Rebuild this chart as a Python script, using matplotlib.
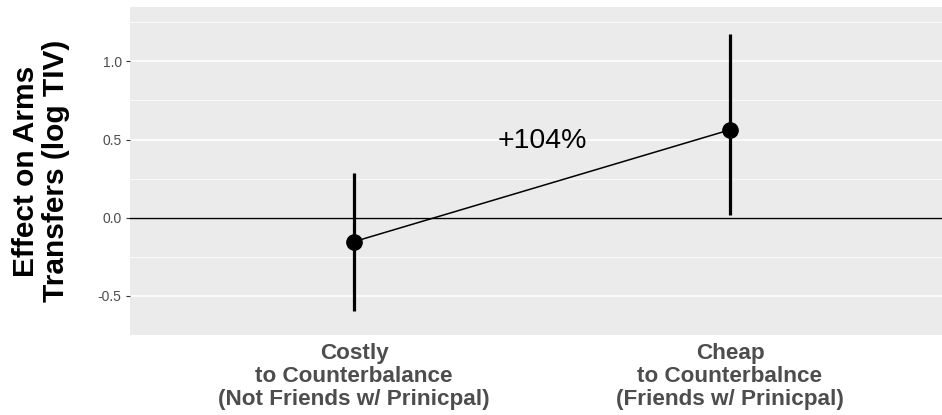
import matplotlib
matplotlib.use("Agg")
import matplotlib.pyplot as plt
import numpy as np

plt.rcParams['font.family'] = ['Liberation Sans', 'DejaVu Sans']

# estimates with confidence bounds for each group
groups = ['Costly\nto Counterbalance\n(Not Friends w/ Prinicpal)',
          'Cheap\nto Counterbalnce\n(Friends w/ Prinicpal)']
estimate = [-0.153, 0.562]
lower = [-0.594, 0.019]
upper = [0.287, 1.174]
change_label = '+104%'

fig = plt.figure(figsize=(9.42, 4.15), dpi=100)
ax = fig.add_axes([0.138, 0.1928, 0.862, 0.7902])
ax.set_facecolor('#EBEBEB')

xpos = np.arange(1, len(groups) + 1)

ax.axhline(0, color='black', lw=1.0, zorder=2)
ax.plot(xpos, estimate, color='black', lw=1.1, zorder=3)
ax.vlines(xpos, lower, upper, color='black', lw=2.3, zorder=3)
ax.plot(xpos, estimate, 'o', color='black', ms=11, zorder=4)
ax.text(xpos.mean(), 0.49, change_label, ha='center', va='center', fontsize=20.5)

ax.set_xlim(0.404, 2.564)
ax.set_ylim(-0.747, 1.347)
ax.set_yticks([-0.5, 0.0, 0.5, 1.0])
ax.set_yticklabels(['-0.5', '0.0', '0.5', '1.0'])
ax.set_yticks([-0.75, -0.25, 0.25, 0.75, 1.25], minor=True)
ax.set_xticks(xpos)
ax.set_xticklabels(groups, fontsize=16.2, fontweight='bold', color='#4D4D4D',
                   linespacing=1.12)

ax.grid(which='major', axis='y', color='white', lw=1.1)
ax.grid(which='minor', axis='y', color='white', lw=0.55)
ax.set_axisbelow(True)
for s in ax.spines.values():
    s.set_visible(False)
ax.tick_params(axis='y', which='major', length=3, color='#333333',
               labelsize=10, labelcolor='#4D4D4D', pad=3)
ax.tick_params(axis='y', which='minor', length=0)
ax.tick_params(axis='x', length=0, pad=6)

ax.set_ylabel('Effect on Arms\nTransfers (log TIV)', fontsize=21.5, fontweight='bold',
              linespacing=1.1, labelpad=20)

fig.savefig('out.png', dpi=100)
